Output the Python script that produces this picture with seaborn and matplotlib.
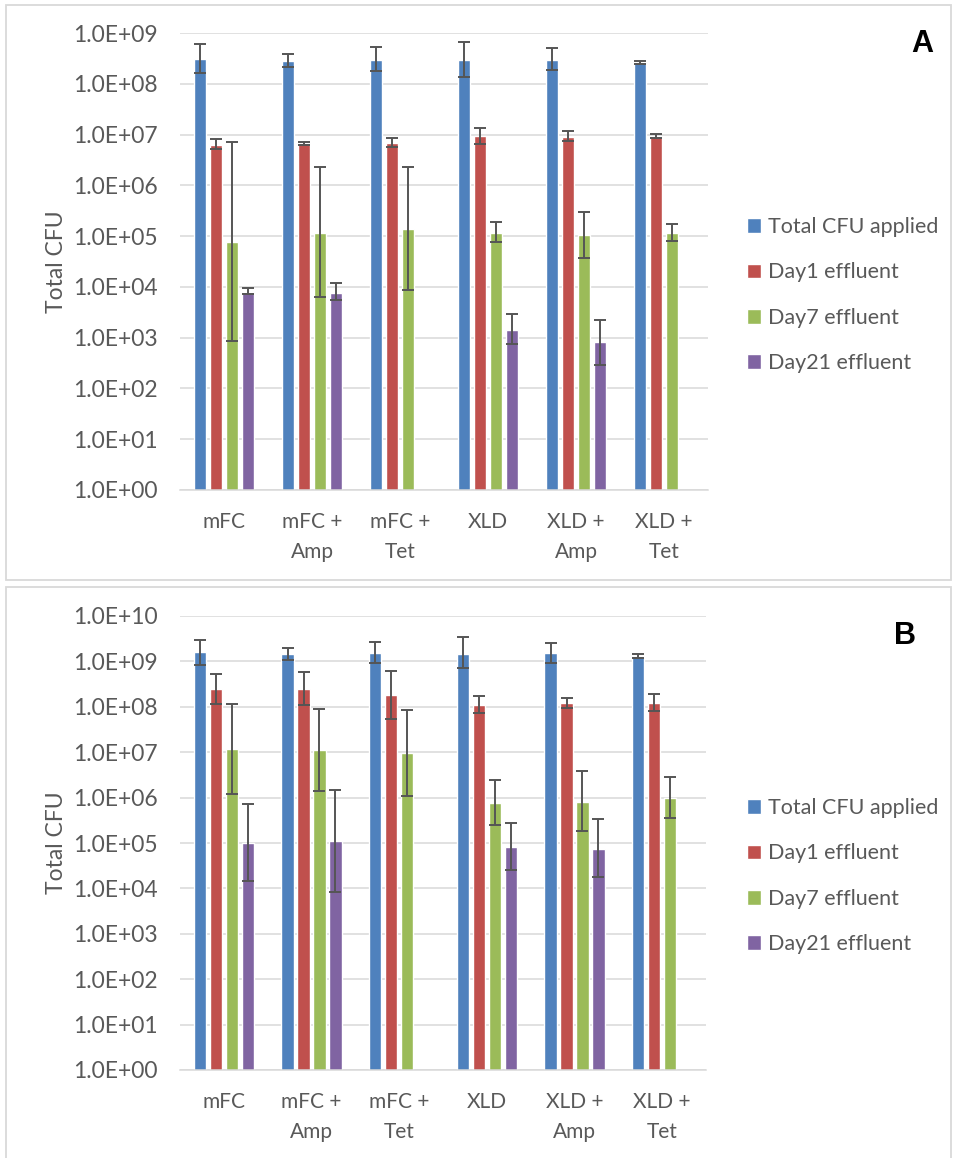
import numpy as np
import pandas as pd
import matplotlib
matplotlib.use("Agg")
import matplotlib.pyplot as plt
from matplotlib.patches import Rectangle
from matplotlib.ticker import FixedLocator, FuncFormatter, NullLocator
import seaborn as sns

media = ["mFC", "mFC +\nAmp", "mFC +\nTet", "XLD", "XLD +\nAmp", "XLD +\nTet"]
series = ["Total CFU applied", "Day1 effluent", "Day7 effluent", "Day21 effluent"]
colors = ["#4F81BD", "#C0504D", "#9BBB59", "#8064A2"]
nan = np.nan

# Panel A: mean total CFU with lower / upper error-bar limits
a_applied = [3.06e8, 2.75e8, 3.0e8, 2.97e8, 3.0e8, 2.6e8]
a_applied_lo = [1.64e8, 2.1e8, 1.78e8, 1.37e8, 1.83e8, 2.4e8]
a_applied_hi = [5.97e8, 3.9e8, 5.4e8, 6.5e8, 5.1e8, 2.84e8]
a_day1 = [6.3e6, 6.7e6, 6.9e6, 9.4e6, 9.1e6, 9.1e6]
a_day1_lo = [5.1e6, 6.3e6, 5.7e6, 6.5e6, 7.3e6, 8.4e6]
a_day1_hi = [8.3e6, 7.2e6, 8.7e6, 1.35e7, 1.17e7, 1.04e7]
a_day7 = [7.6e4, 1.15e5, 1.38e5, 1.17e5, 1.05e5, 1.17e5]
a_day7_lo = [8.7e2, 6.3e3, 8.6e3, 7.5e4, 3.7e4, 7.9e4]
a_day7_hi = [7.0e6, 2.25e6, 2.3e6, 1.93e5, 2.99e5, 1.76e5]
a_day21 = [8.1e3, 7.6e3, nan, 1.44e3, 8.1e2, nan]
a_day21_lo = [7.2e3, 5.4e3, nan, 7.4e2, 2.9e2, nan]
a_day21_hi = [9.4e3, 1.2e4, nan, 2.97e3, 2.26e3, nan]

# Panel B
b_applied = [1.58e9, 1.45e9, 1.52e9, 1.48e9, 1.52e9, 1.31e9]
b_applied_lo = [8.5e8, 1.07e9, 9.0e8, 7.0e8, 9.3e8, 1.2e9]
b_applied_hi = [3.0e9, 2.0e9, 2.67e9, 3.37e9, 2.57e9, 1.45e9]
b_day1 = [2.5e8, 2.42e8, 1.79e8, 1.09e8, 1.19e8, 1.19e8]
b_day1_lo = [1.17e8, 1.11e8, 5.5e7, 7.4e7, 9.2e7, 8.2e7]
b_day1_hi = [5.4e8, 5.7e8, 6.2e8, 1.7e8, 1.6e8, 1.94e8]
b_day7 = [1.16e7, 1.1e7, 9.4e6, 7.6e5, 8.1e5, 9.8e5]
b_day7_lo = [1.18e6, 1.38e6, 1.1e6, 2.45e5, 1.85e5, 3.56e5]
b_day7_hi = [1.13e8, 8.9e7, 8.5e7, 2.44e6, 3.8e6, 2.8e6]
b_day21 = [1.02e5, 1.09e5, nan, 8.2e4, 7.5e4, nan]
b_day21_lo = [1.49e4, 8.5e3, nan, 2.55e4, 1.76e4, nan]
b_day21_hi = [7.2e5, 1.5e6, nan, 2.7e5, 3.4e5, nan]

a_ticks = [10.0 ** k for k in range(0, 10)]
b_ticks = [10.0 ** k for k in range(0, 11)]

sns.set_theme(style="white")
plt.rcParams["font.family"] = ["Lato", "DejaVu Sans"]

TEXT = "#595959"
GRID = "#D9D9D9"
FS_TICK = 16.5
FS_X = 15
FS_LEG = 15.5
FS_LABEL = 16.5

W, H = 956, 1158
fig = plt.figure(figsize=(W / 100, H / 100), dpi=100)


def px_axes(left, top, right, bottom):
    return fig.add_axes([left / W, 1 - bottom / H, (right - left) / W, (bottom - top) / H])


def draw_panel(ax, values, lows, highs, ticks, legend_top):
    rows = []
    for s, vals, lo, hi in zip(series, values, lows, highs):
        for m, v, l, h in zip(media, vals, lo, hi):
            rows.append(dict(medium=m, series=s, cfu=v, lo=l, hi=h))
    df = pd.DataFrame(rows).dropna(subset=["cfu"])

    sns.barplot(data=df, x="medium", y="cfu", hue="series", order=media,
                hue_order=series, palette=colors, saturation=1, width=0.727,
                gap=0.22, errorbar=None, ax=ax)
    ax.set_yscale("log")
    ax.set_ylim(ticks[0], ticks[-1])
    ax.set_xlim(-0.5, len(media) - 0.5)

    # asymmetric error bars at each drawn bar
    for s, cont in zip(series, ax.containers):
        sub = df[df["series"] == s].set_index("medium")
        for bar in cont:
            xc = bar.get_x() + bar.get_width() / 2
            r = sub.loc[media[int(round(xc))]]
            ax.errorbar(xc, r["cfu"], yerr=[[r["cfu"] - r["lo"]], [r["hi"] - r["cfu"]]],
                        fmt="none", ecolor="#555555", elinewidth=1.4,
                        capsize=4.3, capthick=1.4, zorder=3)

    ax.yaxis.set_major_locator(FixedLocator(ticks))
    ax.yaxis.set_minor_locator(NullLocator())
    ax.yaxis.set_major_formatter(FuncFormatter(lambda v, _: f"{v:.1E}"))
    ax.yaxis.grid(True, color=GRID, lw=1.1)
    ax.xaxis.grid(False)
    ax.set_axisbelow(True)
    for side in ["left", "right", "top"]:
        ax.spines[side].set_visible(False)
    ax.spines["bottom"].set_color(GRID)
    ax.spines["bottom"].set_linewidth(1.1)
    ax.tick_params(axis="y", length=0, pad=16, labelsize=FS_TICK, labelcolor=TEXT)
    ax.tick_params(axis="x", length=0, pad=16, labelsize=FS_X, labelcolor=TEXT)
    for lbl in ax.get_xticklabels():
        lbl.set_linespacing(1.6)
    ax.set_xlabel("")
    ax.set_ylabel("Total CFU", fontsize=FS_LABEL, color=TEXT)
    ax.yaxis.set_label_coords(-0.214, 0.5)

    handles, labels = ax.get_legend_handles_labels()
    ax.get_legend().remove()
    fig.legend(handles, labels, loc="upper left",
               bbox_to_anchor=(747 / W, 1 - legend_top / H),
               frameon=False, fontsize=FS_LEG, labelcolor=TEXT,
               handlelength=0.66, handleheight=0.66, handletextpad=0.3,
               labelspacing=1.18, borderpad=0, borderaxespad=0)


axA = px_axes(180, 33, 708, 490)
draw_panel(axA, [a_applied, a_day1, a_day7, a_day21],
           [a_applied_lo, a_day1_lo, a_day7_lo, a_day21_lo],
           [a_applied_hi, a_day1_hi, a_day7_hi, a_day21_hi], a_ticks, 217)

axB = px_axes(180, 616, 706, 1070)
draw_panel(axB, [b_applied, b_day1, b_day7, b_day21],
           [b_applied_lo, b_day1_lo, b_day7_lo, b_day21_lo],
           [b_applied_hi, b_day1_hi, b_day7_hi, b_day21_hi], b_ticks, 798)

# panel frames and letters
for top, bottom in [(5, 580), (587, 1170)]:
    fig.add_artist(Rectangle((6 / W, 1 - bottom / H), (951 - 6) / W, (bottom - top) / H,
                             transform=fig.transFigure, fill=False,
                             edgecolor=GRID, lw=1.3))
fig.text(922 / W, 1 - 44 / H, "A", ha="center", va="center", fontsize=22,
         fontweight="bold", family="Liberation Sans", color="black")
fig.text(905 / W, 1 - 636 / H, "B", ha="center", va="center", fontsize=22,
         fontweight="bold", family="Liberation Sans", color="black")

fig.savefig("out.png", dpi=100)
